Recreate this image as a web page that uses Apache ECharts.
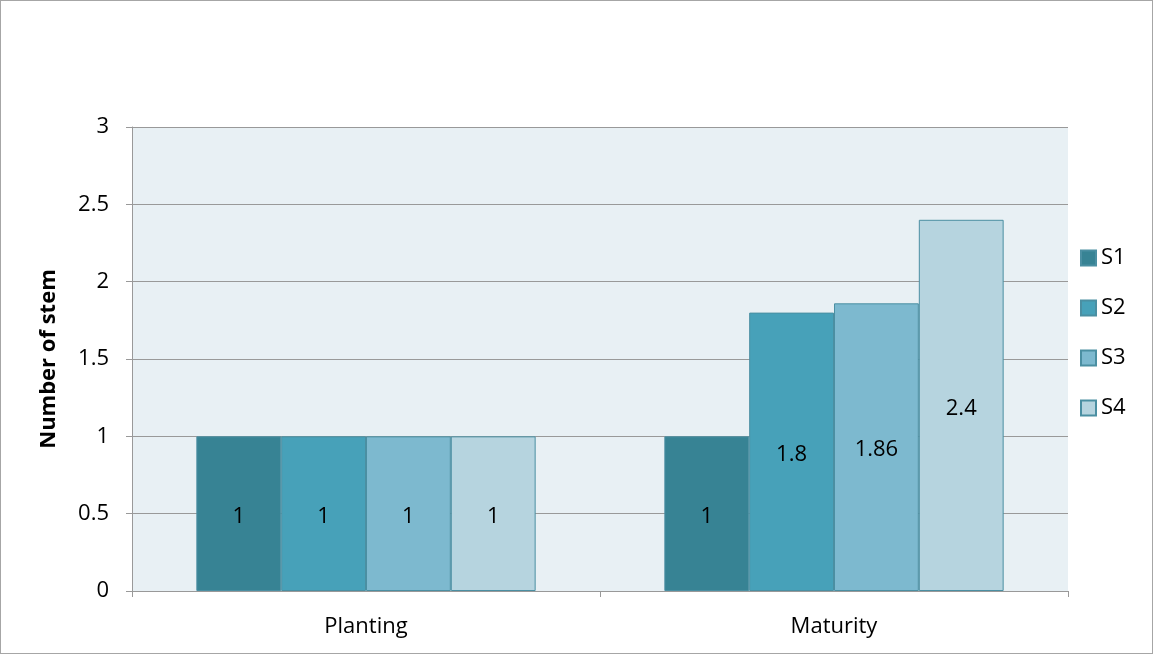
<!DOCTYPE html>
<html><head><meta charset="utf-8">
<script src="https://cdn.jsdelivr.net/npm/echarts@6/dist/echarts.min.js"></script>
<style>
html,body{margin:0;padding:0;background:#fff;}
#c{width:1153px;height:654px;box-sizing:border-box;border:1px solid #a6a6a6;}
</style></head><body>
<div id="c"></div>
<script>
const categories = ['Planting', 'Maturity'];
const seriesNames = ['S1', 'S2', 'S3', 'S4'];
const S1 = [1, 1];
const S2 = [1, 1.8];
const S3 = [1, 1.86];
const S4 = [1, 2.4];
const yTicks = [0, 0.5, 1, 1.5, 2, 2.5, 3];
const colors = ['#378394', '#47a1b9', '#7db9cf', '#b6d4df'];
const values = [S1, S2, S3, S4];
const font = '"Open Sans", sans-serif';
const fs = 22;

const chart = echarts.init(document.getElementById('c'));
chart.setOption({
  animation: false,
  grid: {left: 131, right: 84, top: 126, bottom: 62, show: true, backgroundColor: '#e8f0f4', borderWidth: 0},
  legend: {
    orient: 'vertical', left: 1074, top: 241, itemWidth: 15, itemHeight: 15, itemGap: 28,
    icon: 'rect', data: seriesNames,
    textStyle: {fontFamily: font, fontSize: fs, color: '#000'}
  },
  xAxis: {
    type: 'category', data: categories,
    axisLine: {lineStyle: {color: '#999', width: 1}},
    axisTick: {show: true, length: 6, lineStyle: {color: '#999'}},
    axisLabel: {fontFamily: font, fontSize: fs, color: '#000', margin: 25}
  },
  yAxis: {
    type: 'value', min: yTicks[0], max: yTicks[yTicks.length - 1], interval: 0.5,
    name: 'Number of stem', nameLocation: 'middle', nameGap: 72,
    nameTextStyle: {fontFamily: font, fontSize: fs, fontWeight: 'bold', color: '#000'},
    axisLine: {show: true, lineStyle: {color: '#999'}},
    axisTick: {show: true, length: 6, lineStyle: {color: '#999'}},
    axisLabel: {fontFamily: font, fontSize: fs, color: '#000', margin: 23},
    splitLine: {lineStyle: {color: '#999', width: 1}}
  },
  series: seriesNames.map((n, i) => ({
    name: n, type: 'bar', data: values[i],
    barGap: '0%', barCategoryGap: '27.5%',
    itemStyle: {color: colors[i], borderColor: '#4b8fa2', borderWidth: 1},
    label: {show: true, position: 'inside', fontFamily: font, fontSize: fs, color: '#000', offset: [0, 3]}
  }))
});
</script>
</body></html>
